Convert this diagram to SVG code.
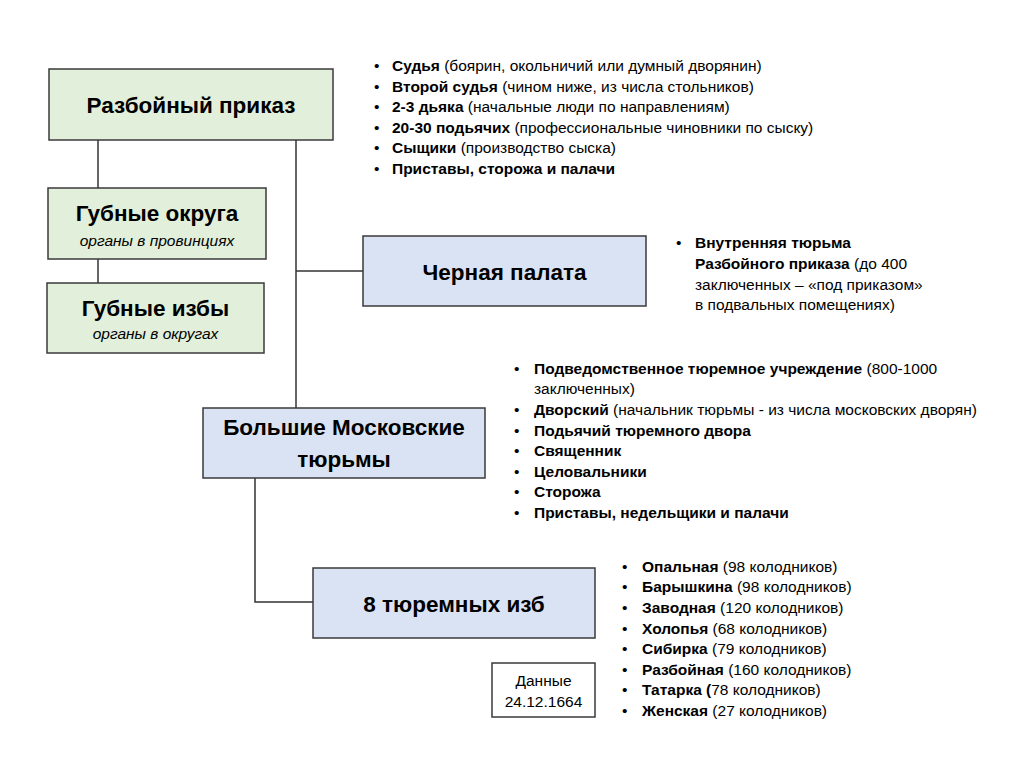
<svg xmlns="http://www.w3.org/2000/svg" width="1024" height="767" viewBox="0 0 1024 767">
<style>
.g{fill:#e2efda;stroke:#3a3a3a;stroke-width:1.5}
.b{fill:#dae3f3;stroke:#3a3a3a;stroke-width:1.5}
.w{fill:#ffffff;stroke:#3a3a3a;stroke-width:1.5}
.t{font-family:"Liberation Sans",Arial,sans-serif;font-weight:bold;font-size:22.5px;fill:#000;text-anchor:middle}
.s{font-family:"Liberation Sans",Arial,sans-serif;font-style:italic;font-size:15.5px;fill:#000;text-anchor:middle}
.d{font-family:"Liberation Sans",Arial,sans-serif;font-size:15.5px;fill:#000;text-anchor:middle}
.l{font-family:"Liberation Sans",Arial,sans-serif;font-size:15.5px;fill:#000}
.l tspan.k{font-weight:bold}
.c{fill:none;stroke:#333;stroke-width:1.5}
</style>
<rect width="1024" height="767" fill="#fff"/>
<g id="connectors">
<line class="c" x1="98" y1="140" x2="98" y2="188"/>
<line class="c" x1="98" y1="259" x2="98" y2="283"/>
<line class="c" x1="296" y1="140" x2="296" y2="408"/>
<line class="c" x1="296" y1="271" x2="363" y2="271"/>
<polyline class="c" points="255,478 255,602 313,602"/>
</g>
<g id="razboiny">
<rect class="g" x="49" y="69" width="284" height="71"/>
<text class="t" x="191" y="113">Разбойный приказ</text>
</g>
<g id="gubnye-okruga">
<rect class="g" x="48" y="188" width="218" height="71"/>
<text class="t" x="157" y="221">Губные округа</text>
<text class="s" x="157" y="246">органы в провинциях</text>
</g>
<g id="gubnye-izby">
<rect class="g" x="47" y="283" width="217" height="70"/>
<text class="t" x="155.5" y="316">Губные избы</text>
<text class="s" x="155.5" y="339">органы в округах</text>
</g>
<g id="chernaya">
<rect class="b" x="363" y="236" width="283" height="70"/>
<text class="t" x="504.5" y="280">Черная палата</text>
</g>
<g id="bolshie">
<rect class="b" x="203" y="408" width="282" height="70"/>
<text class="t" x="344" y="435">Большие Московские</text>
<text class="t" x="344" y="467">тюрьмы</text>
</g>
<g id="izby8">
<rect class="b" x="313" y="568" width="282" height="70"/>
<text class="t" x="454" y="612">8 тюремных изб</text>
</g>
<g id="data">
<rect class="w" x="492" y="663" width="103" height="54"/>
<text class="d" x="543.5" y="686">Данные</text>
<text class="d" x="543.5" y="707">24.12.1664</text>
</g>
<g id="list1">
<text class="l" x="374" y="71">•</text><text class="l" x="392" y="71"><tspan class="k">Судья</tspan> (боярин, окольничий или думный дворянин)</text>
<text class="l" x="374" y="92">•</text><text class="l" x="392" y="92"><tspan class="k">Второй судья</tspan> (чином ниже, из числа стольников)</text>
<text class="l" x="374" y="112">•</text><text class="l" x="392" y="112"><tspan class="k">2-3 дьяка</tspan> (начальные люди по направлениям)</text>
<text class="l" x="374" y="133">•</text><text class="l" x="392" y="133"><tspan class="k">20-30 подьячих</tspan> (профессиональные чиновники по сыску)</text>
<text class="l" x="374" y="153">•</text><text class="l" x="392" y="153"><tspan class="k">Сыщики</tspan> (производство сыска)</text>
<text class="l" x="374" y="174">•</text><text class="l" x="392" y="174"><tspan class="k">Приставы, сторожа и палачи</tspan></text>
</g>
<g id="list2">
<text class="l" x="676" y="248">•</text><text class="l" x="695" y="248"><tspan class="k">Внутренняя тюрьма</tspan></text>
<text class="l" x="695" y="269"><tspan class="k">Разбойного приказа</tspan> (до 400</text>
<text class="l" x="695" y="290">заключенных – «под приказом»</text>
<text class="l" x="695" y="310">в подвальных помещениях)</text>
</g>
<g id="list3">
<text class="l" x="514" y="374">•</text><text class="l" x="534" y="374"><tspan class="k">Подведомственное тюремное учреждение</tspan> (800-1000</text>
<text class="l" x="534" y="394">заключенных)</text>
<text class="l" x="514" y="415">•</text><text class="l" x="534" y="415"><tspan class="k">Дворский</tspan> (начальник тюрьмы - из числа московских дворян)</text>
<text class="l" x="514" y="436">•</text><text class="l" x="534" y="436"><tspan class="k">Подьячий тюремного двора</tspan></text>
<text class="l" x="514" y="456">•</text><text class="l" x="534" y="456"><tspan class="k">Священник</tspan></text>
<text class="l" x="514" y="477">•</text><text class="l" x="534" y="477"><tspan class="k">Целовальники</tspan></text>
<text class="l" x="514" y="497">•</text><text class="l" x="534" y="497"><tspan class="k">Сторожа</tspan></text>
<text class="l" x="514" y="518">•</text><text class="l" x="534" y="518"><tspan class="k">Приставы, недельщики и палачи</tspan></text>
</g>
<g id="list4">
<text class="l" x="622" y="572">•</text><text class="l" x="642" y="572"><tspan class="k">Опальная</tspan> (98 колодников)</text>
<text class="l" x="622" y="592">•</text><text class="l" x="642" y="592"><tspan class="k">Барышкина</tspan> (98 колодников)</text>
<text class="l" x="622" y="613">•</text><text class="l" x="642" y="613"><tspan class="k">Заводная</tspan> (120 колодников)</text>
<text class="l" x="622" y="634">•</text><text class="l" x="642" y="634"><tspan class="k">Холопья</tspan> (68 колодников)</text>
<text class="l" x="622" y="654">•</text><text class="l" x="642" y="654"><tspan class="k">Сибирка</tspan> (79 колодников)</text>
<text class="l" x="622" y="675">•</text><text class="l" x="642" y="675"><tspan class="k">Разбойная</tspan> (160 колодников)</text>
<text class="l" x="622" y="695">•</text><text class="l" x="642" y="695"><tspan class="k">Татарка (</tspan>78 колодников)</text>
<text class="l" x="622" y="716">•</text><text class="l" x="642" y="716"><tspan class="k">Женская</tspan> (27 колодников)</text>
</g>
</svg>
